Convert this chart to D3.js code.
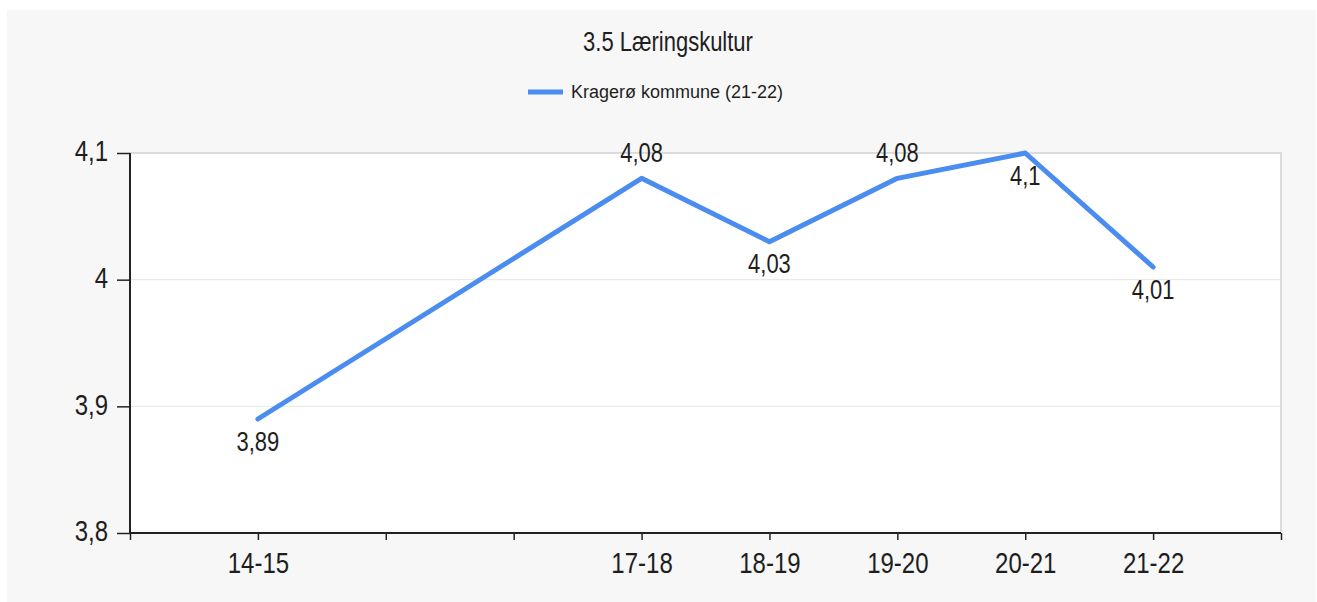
<!DOCTYPE html>
<html>

<head>
    <meta charset="utf-8">
    <style>
        body {
            margin: 0;
            background: #fff;
        }

        svg {
            display: block;
        }

        text {
            font-family: "Liberation Sans", Arial, sans-serif;
            fill: #1e1e1e;
        }

        /* the source picture has tall, narrow lettering */
        .tall {
            transform-box: fill-box;
            transform-origin: center;
            transform: scaleY(1.22);
        }

        .title {
            font-size: 22px;
        }

        .legend-text {
            font-size: 18px;
        }

        .axis text {
            font-size: 24px;
        }

        .axis .domain {
            display: none;
        }

        .axis .tick line {
            stroke: #222;
            stroke-width: 1.5;
        }

        .val-label {
            font-size: 22px;
        }
    </style>
    <title>3.5 Læringskultur</title>
</head>

<body>
    <svg width="1317" height="602"></svg>
</body>

<script src="https://d3js.org/d3.v7.min.js"></script>

<script>
    // data
    let categories = ["14-15", "17-18", "18-19", "19-20", "20-21", "21-22"]
    let slots = [1, 4, 5, 6, 7, 8] // place on the year axis (15-16 and 16-17 have no value)
    let values = [3.89, 4.08, 4.03, 4.08, 4.1, 4.01]
    let labelAbove = [false, true, false, true, false, false]
    let yTicks = [3.8, 3.9, 4.0, 4.1]
    let xTickLabels = ["", "14-15", "", "", "17-18", "18-19", "19-20", "20-21", "21-22", ""]
    let seriesName = "Kragerø kommune (21-22)"
    let chartTitle = "3.5 Læringskultur"

    let lineColor = "#4a8cf0"
    let margin = { top: 153, right: 36, bottom: 69, left: 130 }
    let W = 1317, H = 602

    let svg = d3.select("svg")

    // grey panel
    svg.append("rect")
        .attr("x", 7)
        .attr("y", 10)
        .attr("width", W - 8)
        .attr("height", H - 10)
        .attr("fill", "#f7f7f7")

    let x = d3.scaleLinear()
        .domain([0, 9])
        .range([margin.left, W - margin.right])

    let y = d3.scaleLinear()
        .domain([3.8, 4.1])
        .range([H - margin.bottom, margin.top])

    // plot area
    svg.append("rect")
        .attr("x", x(0))
        .attr("y", y(4.1))
        .attr("width", x(9) - x(0))
        .attr("height", y(3.8) - y(4.1))
        .attr("fill", "#fff")
        .attr("stroke", "#d2d2d2")
        .attr("stroke-width", 1.5)

    // gridlines
    svg.append("g")
        .selectAll("line")
        .data(yTicks.slice(1, 3))
        .join("line")
        .attr("x1", x(0))
        .attr("x2", x(9))
        .attr("y1", d => y(d))
        .attr("y2", d => y(d))
        .attr("stroke", "#e6e6e6")
        .attr("stroke-width", 1)

    // axes
    let yAxis = svg.append("g")
        .attr("class", "y axis")
        .attr("transform", `translate(${x(0)},0)`)
        .call(d3.axisLeft(y)
            .tickValues(yTicks)
            .tickSize(13)
            .tickPadding(9)
            .tickFormat(d => d3.format(".2~f")(d).replace(".", ",")))

    yAxis.selectAll("text").attr("class", "tall").attr("dy", "0.25em")

    let xAxis = svg.append("g")
        .attr("class", "x axis")
        .attr("transform", `translate(0,${y(3.8)})`)
        .call(d3.axisBottom(x)
            .tickValues(d3.range(0, 10))
            .tickSize(7)
            .tickPadding(14)
            .tickFormat(i => xTickLabels[i]))

    xAxis.selectAll("text").attr("class", "tall")

    // axis lines
    svg.append("line")
        .attr("x1", x(0)).attr("x2", x(0))
        .attr("y1", y(4.1)).attr("y2", y(3.8))
        .attr("stroke", "#222").attr("stroke-width", 2)

    svg.append("line")
        .attr("x1", x(0)).attr("x2", x(9))
        .attr("y1", y(3.8)).attr("y2", y(3.8))
        .attr("stroke", "#222").attr("stroke-width", 2)

    // line
    let pts = categories.map((c, i) => ({ cat: c, slot: slots[i], v: values[i], above: labelAbove[i] }))

    let line = d3.line()
        .x(d => x(d.slot))
        .y(d => y(d.v))

    svg.append("path")
        .datum(pts)
        .attr("fill", "none")
        .attr("stroke", lineColor)
        .attr("stroke-width", 5)
        .attr("stroke-linejoin", "round")
        .attr("stroke-linecap", "round")
        .attr("d", line)

    // value labels
    svg.append("g")
        .selectAll("text")
        .data(pts)
        .join("text")
        .attr("class", "val-label tall")
        .attr("text-anchor", "middle")
        .attr("x", d => x(d.slot))
        .attr("y", d => d.above ? y(d.v) - 18 : y(d.v) + 30)
        .text(d => String(d.v).replace(".", ","))

    // title
    svg.append("text")
        .attr("class", "title tall")
        .attr("x", 668)
        .attr("y", 49)
        .attr("text-anchor", "middle")
        .text(chartTitle)

    // legend
    svg.append("line")
        .attr("x1", 528).attr("x2", 563)
        .attr("y1", 92).attr("y2", 92)
        .attr("stroke", lineColor)
        .attr("stroke-width", 5)

    svg.append("text")
        .attr("class", "legend-text")
        .attr("x", 571)
        .attr("y", 98)
        .text(seriesName)
</script>

</html>
